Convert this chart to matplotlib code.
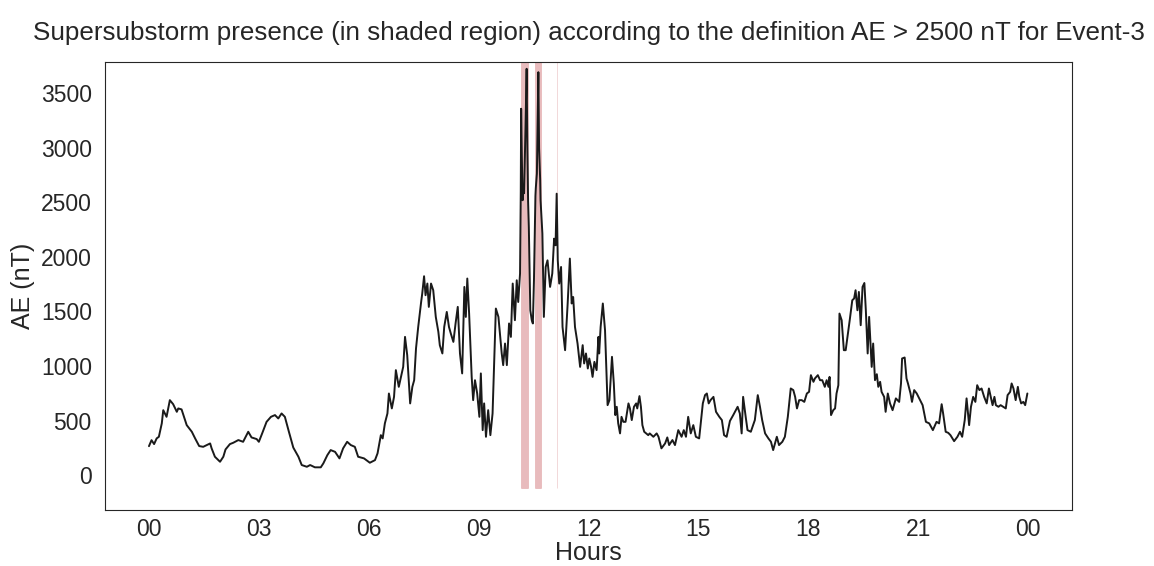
import matplotlib
matplotlib.use("Agg")
import matplotlib.pyplot as plt
import seaborn as sns
import numpy as np

# AE index for Event-3, hours since start of the day
hours = [0.00, 0.07, 0.14, 0.21, 0.27, 0.35, 0.39, 0.48, 0.57, 0.66, 0.76, 0.80, 0.89, 1.03, 1.17, 1.26,
         1.37, 1.48, 1.58, 1.67, 1.71, 1.80, 1.94, 2.03, 2.09, 2.21, 2.30, 2.44, 2.57, 2.71, 2.80, 2.94,
         3.00, 3.09, 3.21, 3.33, 3.44, 3.53, 3.62, 3.71, 3.82, 3.94, 4.08, 4.17, 4.31, 4.40, 4.53, 4.69,
         4.76, 4.87, 4.96, 5.08, 5.20, 5.30, 5.41, 5.51, 5.62, 5.71, 5.87, 6.03, 6.17, 6.24, 6.33, 6.38,
         6.44, 6.51, 6.55, 6.63, 6.69, 6.74, 6.82, 6.88, 6.94, 6.99, 7.05, 7.13, 7.19, 7.24, 7.29, 7.35,
         7.43, 7.46, 7.51, 7.55, 7.60, 7.64, 7.70, 7.76, 7.83, 7.90, 7.94, 8.01, 8.06, 8.13, 8.19, 8.24,
         8.31, 8.37, 8.43, 8.49, 8.55, 8.61, 8.65, 8.69, 8.74, 8.81, 8.85, 8.90, 8.96, 9.02, 9.06, 9.11,
         9.15, 9.20, 9.26, 9.32, 9.38, 9.47, 9.54, 9.63, 9.67, 9.72, 9.77, 9.83, 9.88, 9.93, 9.99, 10.04,
         10.08, 10.13, 10.15, 10.16, 10.18, 10.20, 10.22, 10.24, 10.28, 10.31, 10.33, 10.35, 10.37, 10.41,
         10.45, 10.48, 10.51, 10.55, 10.56, 10.59, 10.63, 10.65, 10.68, 10.69, 10.74, 10.78, 10.83, 10.88,
         10.95, 11.01, 11.06, 11.10, 11.13, 11.16, 11.20, 11.25, 11.29, 11.36, 11.43, 11.49, 11.54, 11.58,
         11.63, 11.70, 11.77, 11.84, 11.88, 11.93, 11.98, 12.02, 12.07, 12.11, 12.16, 12.22, 12.27, 12.29,
         12.33, 12.39, 12.45, 12.50, 12.52, 12.57, 12.64, 12.69, 12.73, 12.77, 12.81, 12.86, 12.90, 12.95,
         13.01, 13.09, 13.13, 13.18, 13.24, 13.30, 13.33, 13.39, 13.43, 13.47, 13.52, 13.63, 13.67, 13.77,
         13.86, 13.91, 13.99, 14.09, 14.15, 14.20, 14.29, 14.36, 14.45, 14.54, 14.60, 14.66, 14.72, 14.79,
         14.86, 14.93, 15.02, 15.12, 15.18, 15.23, 15.28, 15.33, 15.41, 15.48, 15.57, 15.64, 15.70, 15.77,
         15.86, 15.95, 16.07, 16.13, 16.18, 16.22, 16.29, 16.34, 16.43, 16.54, 16.62, 16.68, 16.74, 16.82,
         16.91, 16.98, 17.04, 17.14, 17.20, 17.29, 17.36, 17.44, 17.52, 17.59, 17.64, 17.69, 17.75, 17.82,
         17.89, 17.96, 18.02, 18.07, 18.14, 18.18, 18.26, 18.32, 18.38, 18.45, 18.50, 18.55, 18.58, 18.62,
         18.68, 18.73, 18.77, 18.82, 18.85, 18.91, 18.97, 19.02, 19.07, 19.13, 19.20, 19.25, 19.29, 19.34,
         19.38, 19.43, 19.48, 19.53, 19.57, 19.62, 19.66, 19.73, 19.77, 19.82, 19.87, 19.91, 19.96, 20.00,
         20.07, 20.11, 20.17, 20.23, 20.30, 20.39, 20.48, 20.53, 20.56, 20.63, 20.68, 20.72, 20.79, 20.83,
         20.89, 20.96, 21.05, 21.12, 21.21, 21.30, 21.40, 21.50, 21.57, 21.64, 21.68, 21.75, 21.82, 21.88,
         21.98, 22.07, 22.14, 22.20, 22.27, 22.32, 22.39, 22.44, 22.50, 22.56, 22.61, 22.67, 22.73, 22.80,
         22.87, 22.93, 22.98, 23.03, 23.08, 23.12, 23.19, 23.25, 23.32, 23.39, 23.44, 23.51, 23.55, 23.60,
         23.66, 23.72, 23.76, 23.81, 23.87, 23.92, 23.98]

ae = [265, 320, 284, 336, 351, 474, 595, 534, 687, 650, 580, 611, 602, 458, 397, 336,
      266, 259, 275, 290, 245, 168, 122, 168, 235, 284, 296, 321, 305, 397, 345, 330,
      305, 382, 488, 534, 550, 519, 565, 534, 397, 252, 168, 92, 76, 92, 71, 71,
      107, 183, 229, 213, 153, 245, 305, 275, 259, 168, 153, 113, 137, 199, 366, 336,
      474, 565, 748, 611, 717, 962, 809, 900, 992, 1267, 1099, 657, 809, 870, 1161, 1358,
      1587, 1664, 1823, 1649, 1756, 1542, 1756, 1695, 1450, 1313, 1190, 1115, 1358, 1496, 1358, 1298,
      1221, 1390, 1542, 1115, 932, 1725, 1450, 1802, 1481, 900, 687, 870, 748, 534, 932, 412,
      657, 351, 595, 366, 565, 1527, 1450, 1115, 1008, 1206, 1008, 1390, 1267, 1756, 1420, 1786,
      1587, 1848, 2600, 3359, 2900, 2520, 2600, 2585, 3200, 3725, 3000, 2510, 2274, 1511,
      1420, 1390, 1786, 2560, 2630, 2764, 3694, 3000, 2702, 2520, 2214, 1450, 1908, 1969,
      1725, 1848, 2168, 2107, 2580, 1969, 1756, 1908, 1358, 1145, 1573, 1985, 1573, 1633,
      1358, 1206, 992, 1191, 1023, 1115, 977, 1069, 992, 900, 1038, 962, 1267, 1115,
      1358, 1573, 1328, 840, 641, 687, 1084, 840, 550, 626, 474, 382, 534, 488,
      488, 657, 611, 504, 626, 657, 611, 724, 626, 458, 397, 366, 382, 351,
      382, 351, 245, 290, 345, 275, 321, 275, 412, 351, 412, 351, 534, 382,
      458, 351, 336, 657, 733, 748, 657, 687, 717, 580, 534, 504, 366, 351,
      496, 550, 626, 565, 382, 717, 534, 412, 397, 504, 733, 626, 504, 382,
      336, 305, 229, 351, 275, 305, 351, 534, 794, 779, 717, 611, 687, 687,
      671, 748, 763, 916, 855, 886, 916, 870, 870, 809, 870, 809, 900, 550,
      595, 611, 748, 824, 1481, 1420, 1145, 1145, 1267, 1420, 1603, 1619, 1695, 1511,
      1679, 1374, 1725, 1761, 1511, 1115, 1450, 992, 1206, 870, 925, 809, 855, 763,
      717, 580, 748, 657, 595, 703, 671, 840, 1069, 1078, 886, 840, 748, 671,
      779, 748, 687, 641, 488, 474, 412, 488, 474, 650, 565, 397, 387, 366,
      311, 351, 397, 351, 504, 703, 458, 626, 717, 671, 824, 779, 794, 717,
      657, 794, 717, 641, 717, 641, 626, 641, 626, 611, 733, 763, 840, 794,
      687, 809, 717, 657, 671, 641, 748]

threshold = 2500
tick_hours = [0, 3, 6, 9, 12, 15, 18, 21, 24]
tick_labels = ["00", "03", "06", "09", "12", "15", "18", "21", "00"]

sns.set_style("white")
plt.rcParams["font.family"] = ["Liberation Sans", "DejaVu Sans"]

t = np.array(hours)
y = np.array(ae)

fig = plt.figure(figsize=(11.54, 5.66), dpi=100)
ax = fig.add_axes([0.091, 0.099, 0.838, 0.791])

ax.plot(t, y, color="#1a1a1a", lw=1.4)
# shade the intervals where AE exceeds the threshold
ax.fill_between(t, 0.05, 1, where=y > threshold, color="#C44E52", alpha=0.38,
                linewidth=0.4, transform=ax.get_xaxis_transform())

ax.set_xlim(-1.2, 25.2)
ax.set_ylim(-320, 3785)
ax.set_xticks(tick_hours)
ax.set_xticklabels(tick_labels)
ax.tick_params(axis="x", labelsize=16.5, pad=2)
ax.tick_params(axis="y", labelsize=16.5, pad=6)
ax.set_xlabel("Hours", fontsize=18, labelpad=0)
ax.set_ylabel("AE (nT)", fontsize=18)
ax.set_title("Supersubstorm presence (in shaded region) according to the definition AE > 2500 nT for Event-3",
             fontsize=18.7, pad=16)

fig.savefig("out.png", dpi=100)
